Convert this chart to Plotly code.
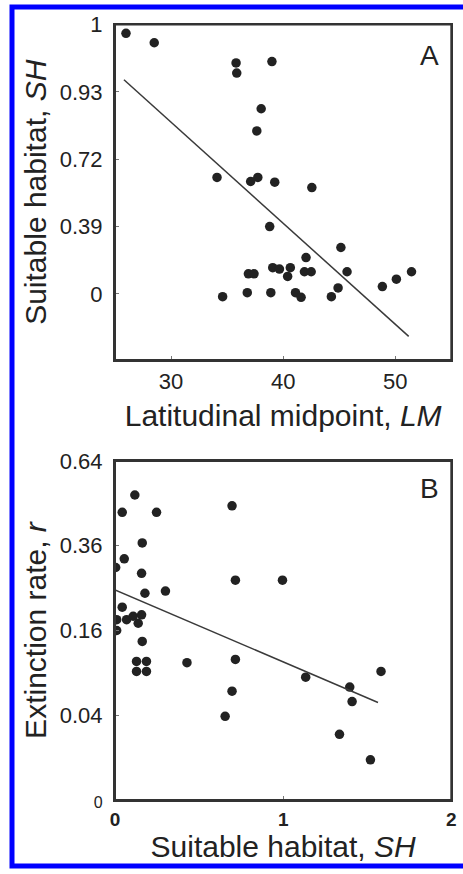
import numpy as np
import plotly.graph_objects as go

# ---------------- Panel A data (y in axis display units: tick positions 0..4) ----------------
lm = [25.98, 28.5, 34.1, 34.6, 35.8, 35.86, 39.0, 38.04, 37.65, 37.1, 37.74, 39.25, 42.56,
      38.8, 45.15, 42.04, 36.9, 37.4, 39.07, 39.67, 40.64, 40.4, 41.9, 42.5, 45.7,
      36.8, 38.9, 41.1, 41.6, 44.3, 44.9, 48.85, 50.1, 51.45]
sh_u = [3.87, 3.73, 1.73, -0.04, 3.43, 3.28, 3.45, 2.75, 2.42, 1.67, 1.73, 1.66, 1.58,
        1.0, 0.69, 0.54, 0.30, 0.30, 0.39, 0.37, 0.39, 0.26, 0.33, 0.33, 0.33,
        0.02, 0.02, 0.02, -0.05, -0.04, 0.09, 0.11, 0.22, 0.33]
fitA_x = [25.8, 51.2]
fitA_y = [3.18, -0.63]
a_tickvals = [0, 1, 2, 3, 4]
a_ticktext = ["0", "0.39", "0.72", "0.93", "1"]
a_xticks = [30, 40, 50]

# ---------------- Panel B data ----------------
sh_b = [0.118, 0.043, 0.247, 0.162, 0.055, 0.004, 0.158, 0.178, 0.30,
        0.043, 0.010, 0.069, 0.108, 0.158, 0.138, 0.010, 0.162,
        0.128, 0.187, 0.128, 0.187, 0.428,
        0.696, 0.716, 0.716, 0.696, 0.655, 0.996, 1.134, 1.396, 1.41, 1.582, 1.335, 1.519]
r_b = [0.518, 0.461, 0.461, 0.368, 0.324, 0.301, 0.286, 0.238, 0.243,
       0.207, 0.181, 0.181, 0.188, 0.191, 0.174, 0.160, 0.140,
       0.107, 0.107, 0.092, 0.092, 0.105,
       0.482, 0.269, 0.110, 0.066, 0.039, 0.269, 0.084, 0.071, 0.054, 0.092, 0.024, 0.009]
fitB_x = [0.0, 1.564]
fitB_r = [0.246, 0.053]
b_yticks = [0, 0.04, 0.16, 0.36, 0.64]
b_yticktext = ["<span style='font-size:16px'>0</span>", "0.04", "0.16", "0.36", "0.64"]
b_xticks = [0, 1, 2]

DOT = "#222222"
LINE = "#3a3a3a"
FRAME = "#333333"
FONT = "Liberation Sans, Arial, sans-serif"

A_DOMAIN = [0.5663, 0.998]
B_DOMAIN = [0.0, 0.4363]
X_DOMAIN = [0, 0.995]

fig = go.Figure()
fig.add_trace(go.Scatter(x=lm, y=sh_u, mode="markers",
                         marker=dict(size=9.5, color=DOT), xaxis="x", yaxis="y", showlegend=False))
fig.add_trace(go.Scatter(x=fitA_x, y=fitA_y, mode="lines",
                         line=dict(color=LINE, width=1.5), xaxis="x", yaxis="y", showlegend=False))
fig.add_trace(go.Scatter(x=sh_b, y=np.sqrt(r_b), mode="markers",
                         marker=dict(size=9.5, color=DOT), xaxis="x2", yaxis="y2", showlegend=False))
fig.add_trace(go.Scatter(x=fitB_x, y=np.sqrt(fitB_r), mode="lines",
                         line=dict(color=LINE, width=1.5), xaxis="x2", yaxis="y2", showlegend=False))

axis_common = dict(showline=True, mirror=True, linecolor=FRAME, linewidth=2,
                   ticks="inside", ticklen=4, tickcolor="#777", showgrid=False,
                   zeroline=False, automargin=False,
                   tickfont=dict(family=FONT, size=22, color="#222"))

fig.update_layout(
    width=463, height=874,
    margin=dict(l=115, r=10, t=23, b=74),
    paper_bgcolor="white", plot_bgcolor="white",
    font=dict(family=FONT, color="#222"),
    xaxis=dict(domain=X_DOMAIN, anchor="y", range=[25, 55], tickvals=a_xticks,
               ticklabelstandoff=1,
               title=dict(text="Latitudinal midpoint, <i>LM</i>",
                          font=dict(family=FONT, size=30, color="#222"), standoff=12),
               **axis_common),
    yaxis=dict(domain=A_DOMAIN, anchor="x", range=[-0.98, 4], tickvals=a_tickvals,
               ticktext=a_ticktext, ticklabelstandoff=6,
               title=dict(text="Suitable habitat, <i>SH</i>",
                          font=dict(family=FONT, size=30, color="#222"), standoff=4),
               **axis_common),
    xaxis2=dict(domain=X_DOMAIN, anchor="y2", range=[0, 2], tickvals=b_xticks,
                ticktext=["<b>%d</b>" % v for v in b_xticks], ticklabelstandoff=1,
                title=dict(text="Suitable habitat, <i>SH</i>",
                           font=dict(family=FONT, size=30, color="#222"), standoff=0),
                **{**axis_common, "tickfont": dict(family=FONT, size=19, color="#222")}),
    yaxis2=dict(domain=B_DOMAIN, anchor="x2", range=[0, 0.8], tickvals=np.sqrt(b_yticks),
                ticktext=b_yticktext, ticklabelstandoff=6,
                title=dict(text="Extinction rate, <i>r</i>",
                           font=dict(family=FONT, size=30, color="#222"), standoff=4),
                **axis_common),
    annotations=[
        dict(text="A", xref="x domain", yref="y domain", x=0.97, y=0.96,
             xanchor="right", yanchor="top", showarrow=False,
             font=dict(family=FONT, size=28, color="#222")),
        dict(text="B", xref="x2 domain", yref="y2 domain", x=0.97, y=0.97,
             xanchor="right", yanchor="top", showarrow=False,
             font=dict(family=FONT, size=28, color="#222")),
    ],
    shapes=[
        dict(type="rect", xref="x domain", yref="y domain", x0=0, x1=1, y0=0, y1=1,
             line=dict(color=FRAME, width=2), fillcolor="rgba(0,0,0,0)", layer="above"),
        dict(type="rect", xref="x2 domain", yref="y2 domain", x0=0, x1=1, y0=0, y1=1,
             line=dict(color=FRAME, width=2), fillcolor="rgba(0,0,0,0)", layer="above"),
        dict(type="rect", xref="paper", yref="paper",
             x0=(12 - 115) / 338, x1=(480 - 115) / 338,
             y0=(800 - 866) / 777, y1=(800 - 7) / 777,
             line=dict(color="#0000ff", width=5), fillcolor="rgba(0,0,0,0)", layer="above"),
    ],
)

fig.write_html("out.html", config={"displayModeBar": False},
               post_script="document.body.style.margin='0';document.body.style.padding='0';"
                           "document.body.style.overflow='hidden';")
